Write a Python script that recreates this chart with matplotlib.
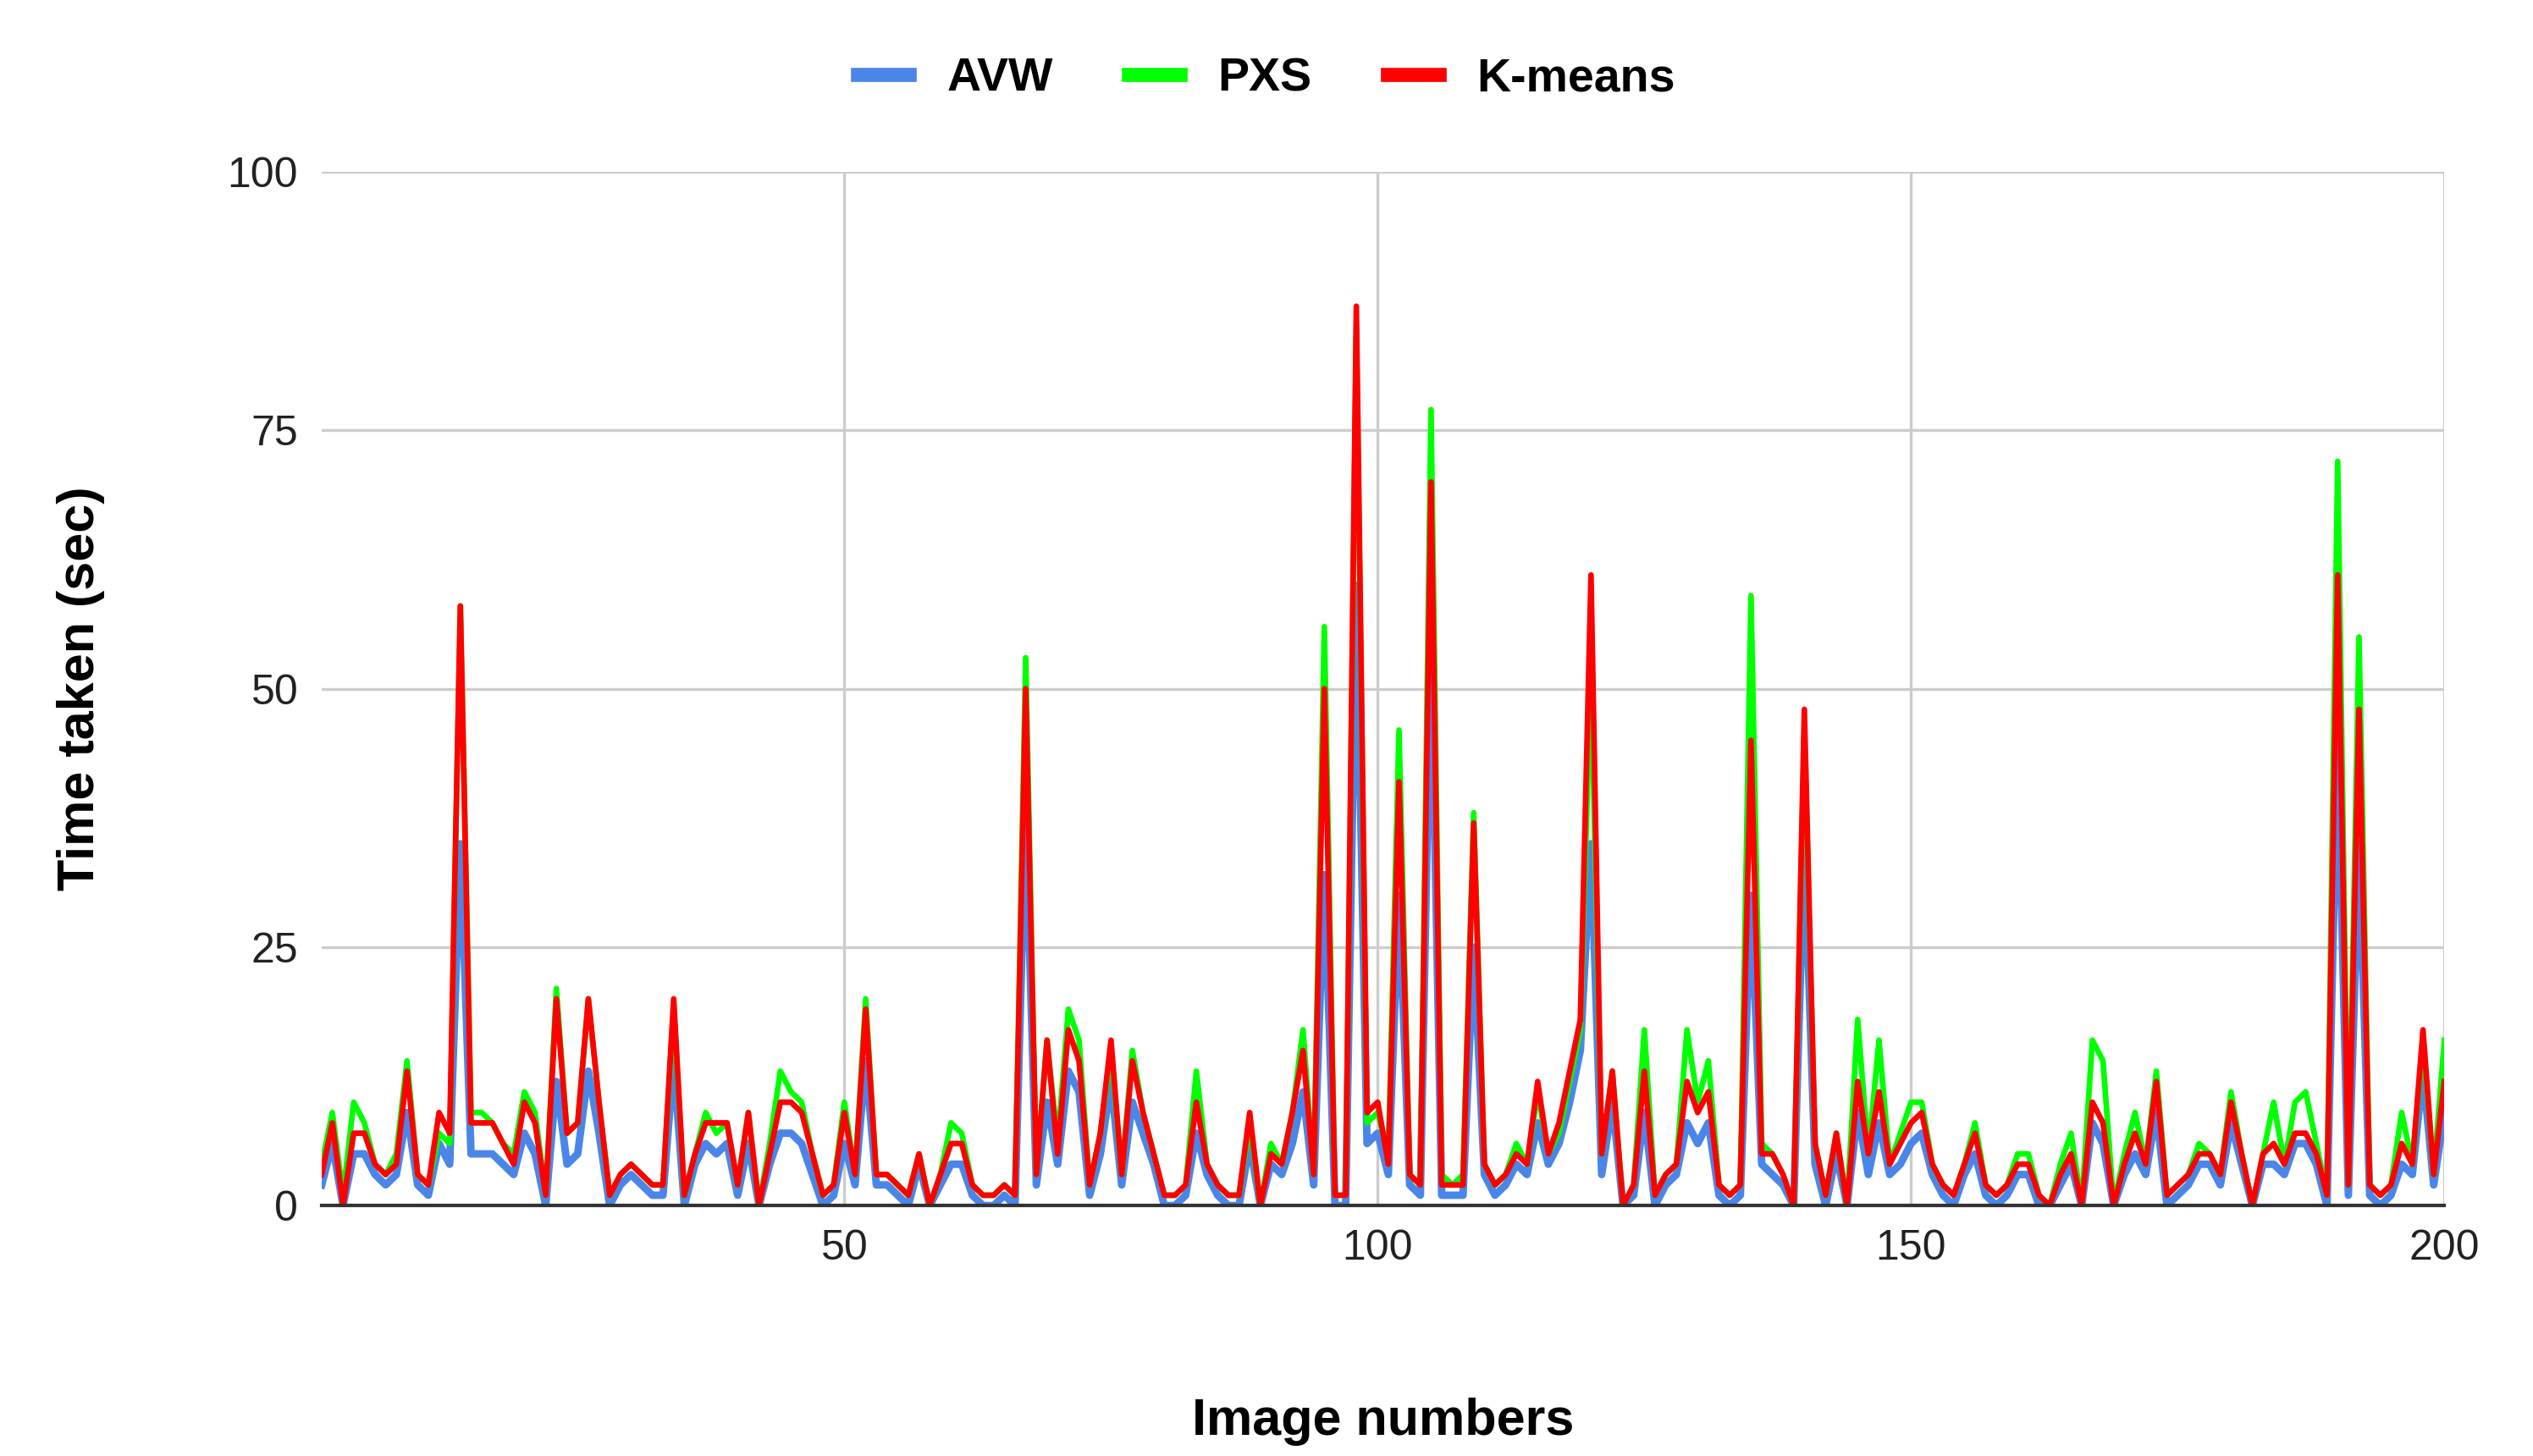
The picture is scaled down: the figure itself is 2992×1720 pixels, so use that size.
import matplotlib
matplotlib.use("Agg")
import matplotlib.pyplot as plt
import numpy as np

plt.rcParams['font.family'] = ['Liberation Sans', 'DejaVu Sans']

kmeans = [3,8,0,7,7,4,3,4,13,3,
          2,9,7,58,8,8,8,6,4,10,
          8,1,20,7,8,20,10,1,3,4,
          3,2,2,20,1,5,8,8,8,2,
          9,0,5,10,10,9,5,1,2,9,
          3,19,3,3,2,1,5,0,3,6,
          6,2,1,1,2,1,50,3,16,5,
          17,14,2,7,16,3,14,9,5,1,
          1,2,10,4,2,1,1,9,0,5,
          4,9,15,3,50,1,1,87,9,10,
          4,41,3,2,70,2,2,2,37,4,
          2,3,5,4,12,5,8,13,18,61,
          5,13,0,2,13,1,3,4,12,9,
          11,2,1,2,45,5,5,3,0,48,
          6,1,7,0,12,5,11,4,6,8,
          9,4,2,1,4,7,2,1,2,4,
          4,1,0,3,5,0,10,8,0,4,
          7,4,12,1,2,3,5,5,3,10,
          5,0,5,6,4,7,7,5,1,61,
          2,48,2,1,2,6,4,17,3,12]
pxs = [4,9,1,10,8,4,3,5,14,3,
       2,7,6,58,9,9,8,6,5,11,
       9,1,21,7,8,20,10,1,3,4,
       3,2,2,19,1,5,9,7,8,2,
       9,0,6,13,11,10,5,1,2,10,
       3,20,3,3,2,1,5,0,3,8,
       7,2,1,1,2,1,53,3,16,6,
       19,16,2,7,15,3,15,9,5,1,
       1,2,13,4,2,1,1,8,0,6,
       4,9,17,3,56,1,1,85,8,9,
       5,46,3,2,77,3,2,3,38,4,
       2,3,6,4,11,5,7,12,17,52,
       5,13,0,2,17,1,3,4,17,10,
       14,2,1,2,59,6,5,3,0,46,
       6,1,7,0,18,5,16,4,7,10,
       10,4,2,1,4,8,2,1,2,5,
       5,1,0,4,7,0,16,14,0,5,
       9,4,13,1,2,3,6,5,3,11,
       5,0,5,10,4,10,11,6,1,72,
       2,55,2,1,2,9,4,16,3,16]
avw = [2,6,0,5,5,3,2,3,9,2,
       1,6,4,35,5,5,5,4,3,7,
       5,0,12,4,5,13,7,0,2,3,
       2,1,1,14,0,4,6,5,6,1,
       6,0,4,7,7,6,3,0,1,6,
       2,14,2,2,1,0,4,0,2,4,
       4,1,0,0,1,0,38,2,10,4,
       13,11,1,5,12,2,10,7,4,0,
       0,1,7,3,1,0,0,6,0,4,
       3,6,11,2,32,0,0,60,6,7,
       3,30,2,1,55,1,1,1,25,3,
       1,2,4,3,8,4,6,10,15,35,
       3,10,0,1,9,0,2,3,8,6,
       8,1,0,1,30,4,3,2,0,35,
       4,0,5,0,9,3,8,3,4,6,
       7,3,1,0,3,5,1,0,1,3,
       3,0,0,2,4,0,8,6,0,3,
       5,3,9,0,1,2,4,4,2,8,
       4,0,4,4,3,6,6,4,0,45,
       1,35,1,0,1,4,3,13,2,9]
images = list(range(1, len(kmeans) + 1))

fig = plt.figure(figsize=(14.96, 8.6), dpi=200)
ax = fig.add_axes([0.127, 0.172, 0.838, 0.71])
lw = 2.4
ax.plot(images, avw, color="#4a86e8", lw=lw+0.8, label="AVW")
ax.plot(images, pxs, color="#00ff00", lw=lw, label="PXS")
ax.plot(images, kmeans, color="#ff0000", lw=lw, label="K-means")
ax.set_xlim(1, 200)
ax.set_ylim(0, 100)
ax.set_xticks([50, 100, 150, 200])
ax.set_yticks([0, 25, 50, 75, 100])
ax.grid(True, color="#cccccc", lw=1.2)
ax.set_axisbelow(True)
for s in ["top", "right", "left"]:
    ax.spines[s].set_visible(False)
ax.spines["bottom"].set_color("#333333")
ax.spines["bottom"].set_linewidth(1.5)
ax.tick_params(length=0, labelsize=18, colors="#222222", pad=10)
ax.set_xlabel("Image numbers", fontsize=22, fontweight="bold", labelpad=55)
ax.set_ylabel("Time taken (sec)", fontsize=22, fontweight="bold", labelpad=52)
leg = fig.legend(loc="upper center", bbox_to_anchor=(0.5, 0.99), ncol=3, frameon=False,
                 prop={"weight": "bold", "size": 20}, handlelength=1.1, columnspacing=1.6)
for h in leg.get_lines():
    h.set_linewidth(6)
fig.savefig("out.png", dpi=200)
